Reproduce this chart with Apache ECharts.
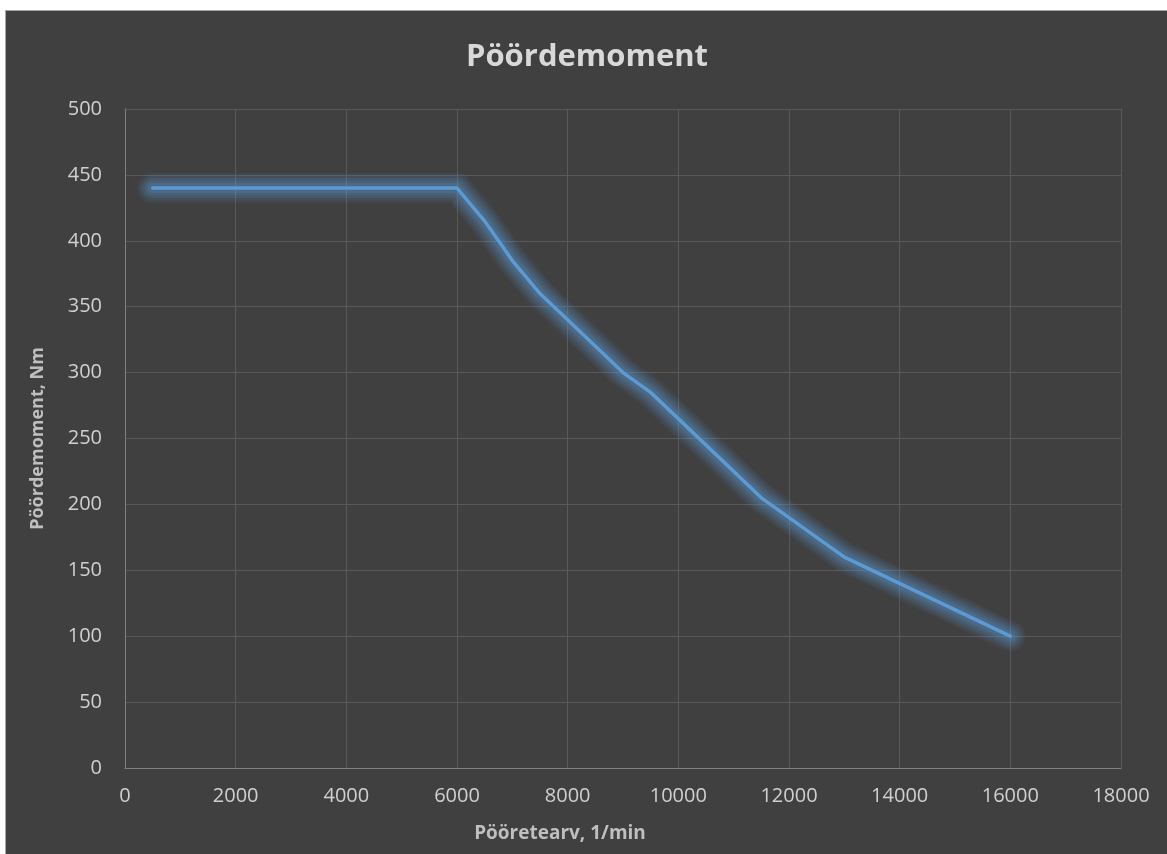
<!DOCTYPE html>
<html>
<head>
<meta charset="utf-8">
<script src="https://cdn.jsdelivr.net/npm/echarts@6/dist/echarts.min.js"></script>
<style>
  html, body { margin: 0; padding: 0; background: #ffffff; }
  #frame {
    position: absolute; left: 5px; top: 10px;
    width: 1162px; height: 844px;
    border-top: 1px solid #a6a6a6; border-left: 1px solid #a6a6a6;
    background: #404040;
  }
  #chart { width: 1162px; height: 844px; }
</style>
</head>
<body>
<div id="frame"><div id="chart"></div></div>
<script>
// Engine speed (1/min) and torque (Nm)
const rpm    = [500, 6000, 6500, 7000, 7500, 9000, 9500, 11500, 13000, 16000];
const torque = [440, 440, 415, 385, 360, 300, 285, 205, 160, 100];

const titleText = 'Pöördemoment';
const xTitle = 'Pööretearv, 1/min';
const yTitle = 'Pöördemoment, Nm';

const font = '"Open Sans", "Noto Sans", sans-serif';
const points = rpm.map((r, i) => [r, torque[i]]);
const chart = echarts.init(document.getElementById('chart'), null, { renderer: 'canvas' });

// layered translucent strokes that build a soft glow around the curve
const glowLayers = [
  { width: 30, alpha: 0.08 },
  { width: 25, alpha: 0.10 },
  { width: 20, alpha: 0.12 },
  { width: 15, alpha: 0.14 },
  { width: 10, alpha: 0.16 }
];
const glowSeries = glowLayers.map((g, i) => ({
  type: 'line',
  data: points,
  showSymbol: false,
  silent: true,
  z: 1 + i * 0.1,
  lineStyle: { color: `rgba(91,155,213,${g.alpha})`, width: g.width, cap: 'round', join: 'round' }
}));

chart.setOption({
  backgroundColor: '#404040',
  animation: false,
  title: {
    text: titleText,
    left: 'center',
    top: 26,
    textStyle: { color: '#d9d9d9', fontFamily: font, fontWeight: 'bold', fontSize: 31 }
  },
  grid: { left: 119, right: 47, top: 98, bottom: 87 },
  xAxis: {
    type: 'value',
    min: 0, max: 18000, interval: 2000,
    name: xTitle,
    nameLocation: 'middle',
    nameGap: 56,
    nameTextStyle: { color: '#bfbfbf', fontFamily: font, fontWeight: 'bold', fontSize: 19, padding: [0, 126, 0, 0] },
    axisLine: { show: true, lineStyle: { color: '#808080', width: 1 } },
    axisTick: { show: false },
    axisLabel: { color: '#d0d0d0', fontFamily: font, fontSize: 20, margin: 18, formatter: v => String(v) },
    splitLine: { show: true, lineStyle: { color: '#595959', width: 1 } }
  },
  yAxis: {
    type: 'value',
    min: 0, max: 500, interval: 50,
    name: yTitle,
    nameLocation: 'middle',
    nameGap: 78,
    nameRotate: 90,
    nameTextStyle: { color: '#bfbfbf', fontFamily: font, fontWeight: 'bold', fontSize: 18 },
    axisLine: { show: true, lineStyle: { color: '#808080', width: 1 } },
    axisTick: { show: false },
    axisLabel: { color: '#d0d0d0', fontFamily: font, fontSize: 20, margin: 23 },
    splitLine: { show: true, lineStyle: { color: '#595959', width: 1 } }
  },
  series: glowSeries.concat([{
    type: 'line',
    data: points,
    showSymbol: false,
    z: 3,
    lineStyle: { color: '#5b9bd5', width: 3.5, cap: 'round', join: 'round' }
  }])
});
</script>
</body>
</html>
